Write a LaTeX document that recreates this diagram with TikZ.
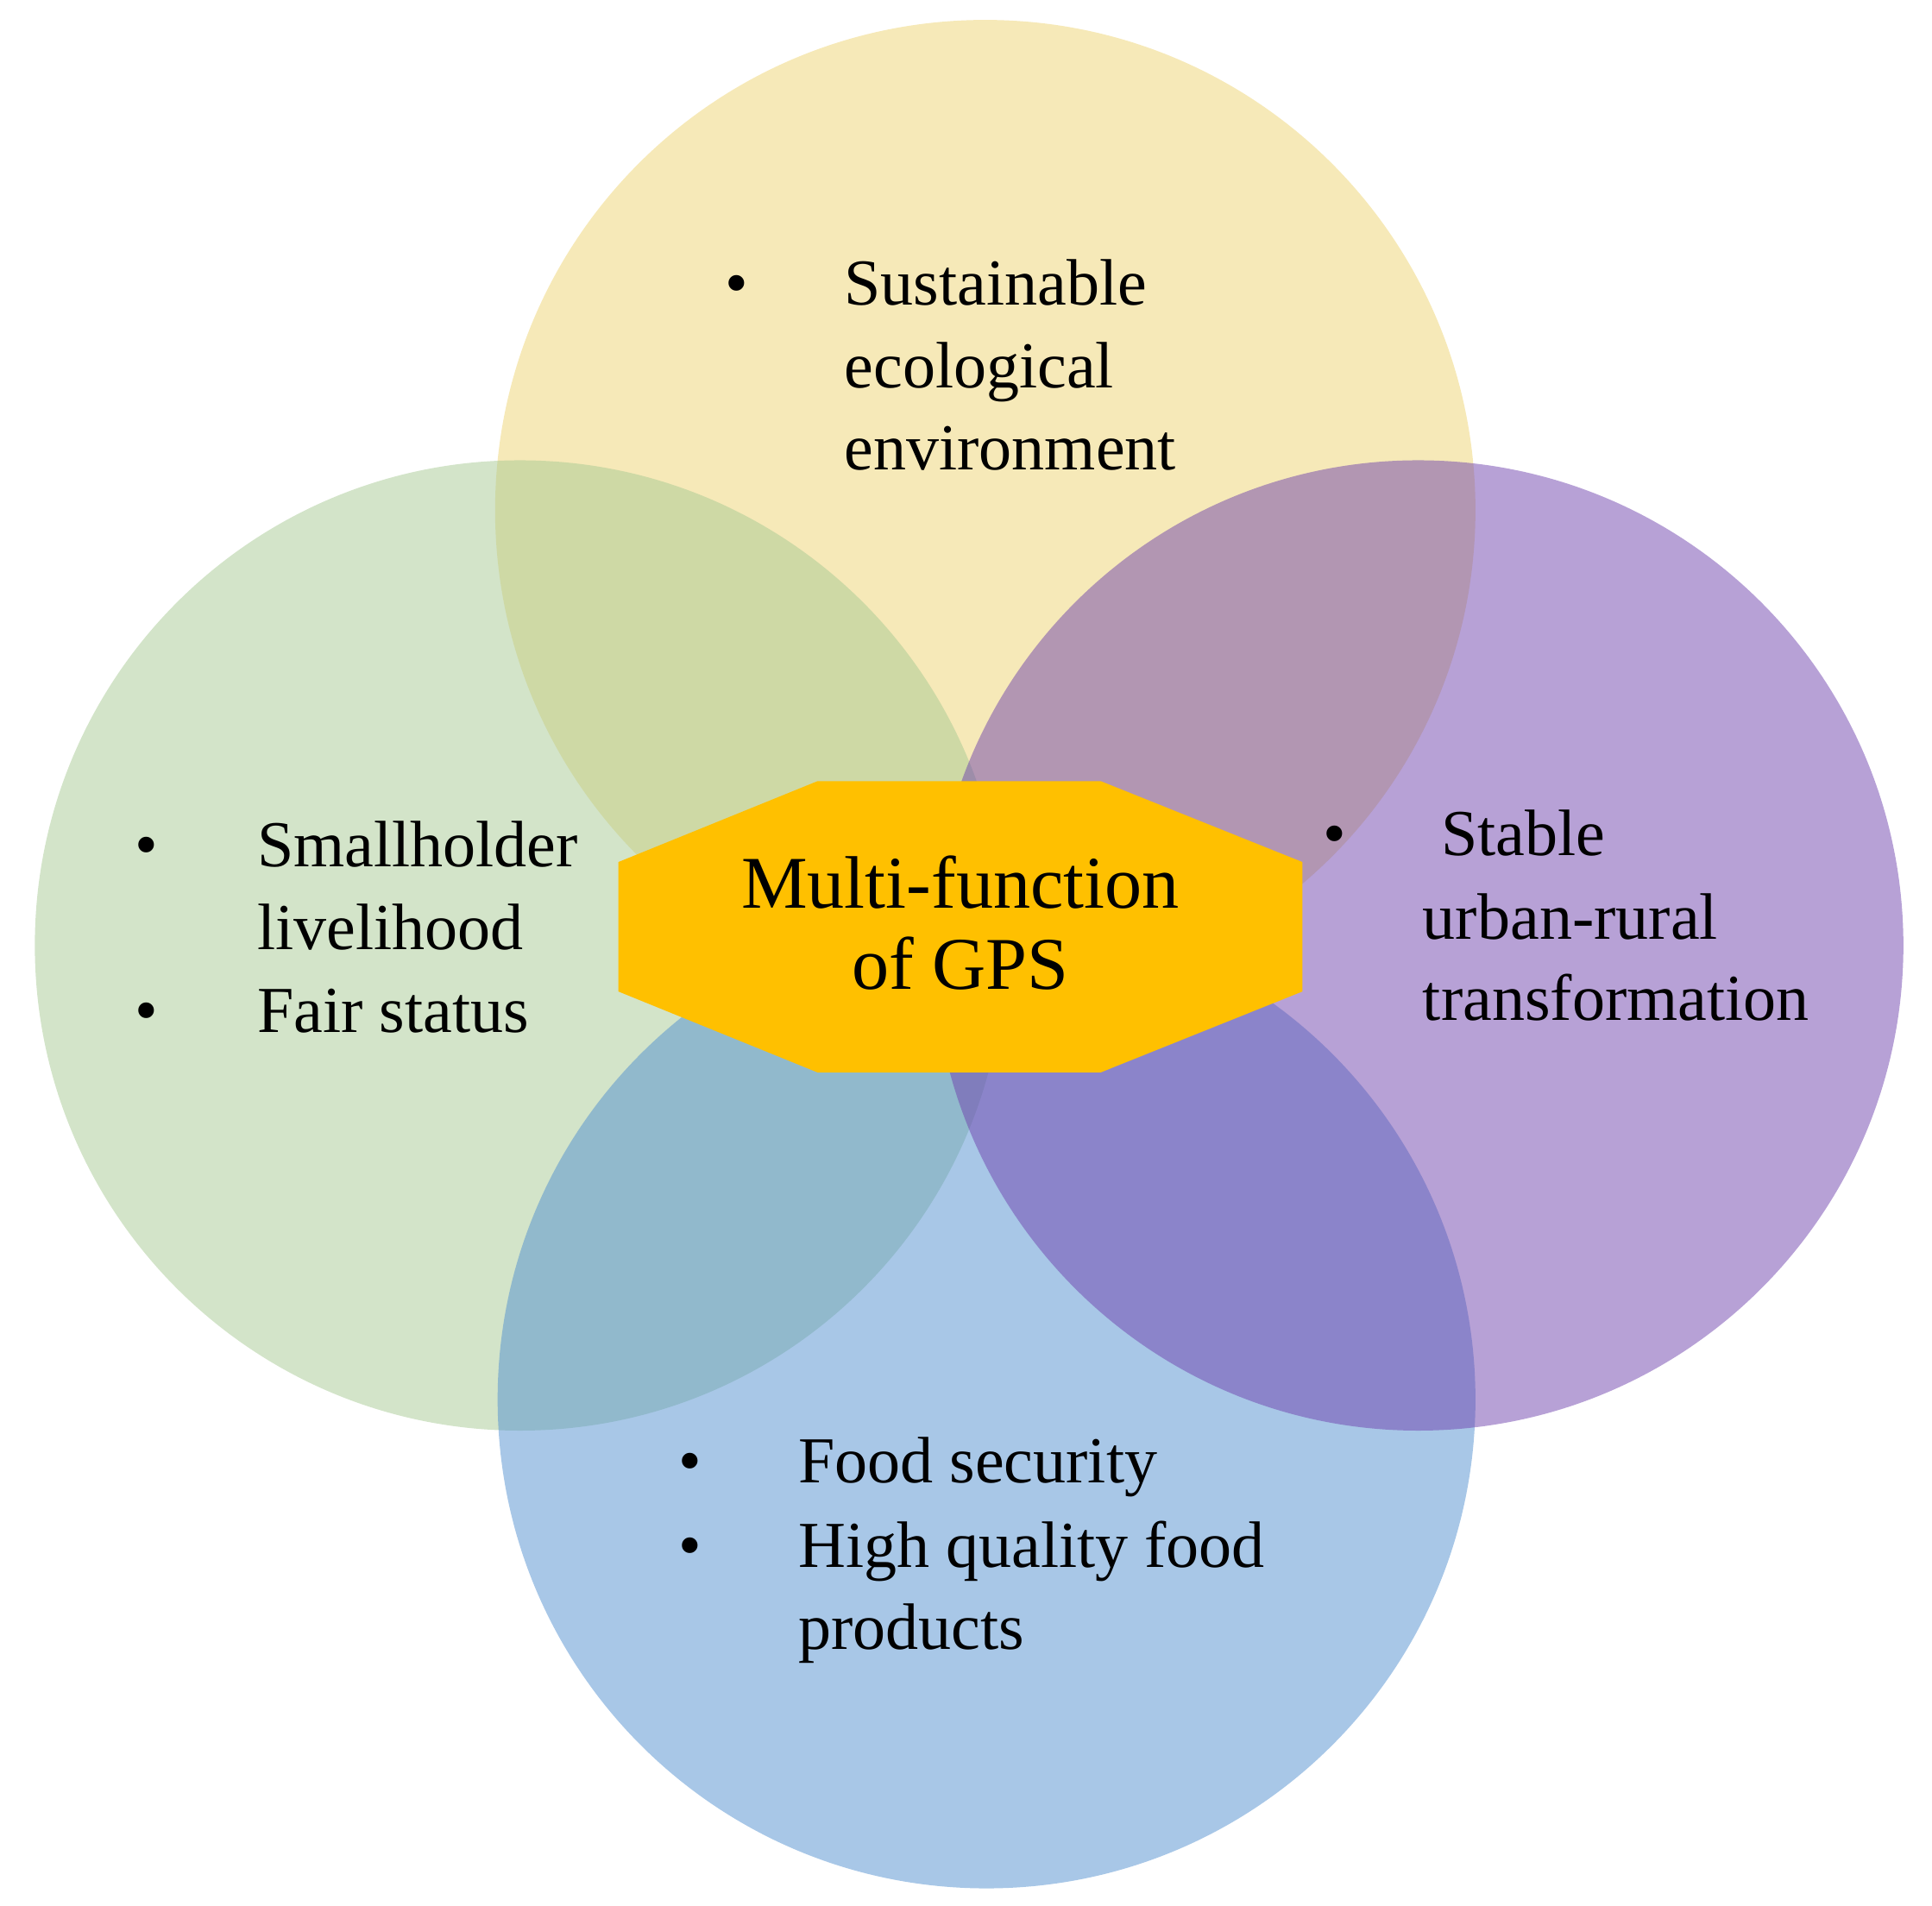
\documentclass[tikz,border=0pt]{standalone}
\usepackage{fontspec}
\setmainfont{Liberation Serif}
\usetikzlibrary{shapes.geometric}
\begin{document}
\begin{tikzpicture}[x=0.01cm,y=-0.01cm,
  circ/.style={fill opacity=0.5},
  txt/.style={anchor=base west,inner sep=0,font=\fontsize{15pt}{19pt}\selectfont},
  bul/.style={anchor=base,inner sep=0,font=\fontsize{15pt}{19pt}\selectfont}]
\useasboundingbox (0,0) rectangle (1553,1532);
\definecolor{cy}{HTML}{EED372}
\definecolor{cg}{HTML}{A7C993}
\definecolor{cp}{HTML}{6F43AD}
\definecolor{cb}{HTML}{518FCF}
\definecolor{oct}{HTML}{FFC000}
\fill[circ,cy] (792,410) circle (394);
\fill[circ,cg] (418,760) circle (390);
\fill[circ,cb] (793,1125) circle (393);
\fill[circ,cp] (1140,760) circle (390);
\fill[oct] (657,628) -- (885,628) -- (1047,693) -- (1047,797) -- (885,862) -- (657,862) -- (497,797) -- (497,693) -- cycle;
\node[anchor=base,inner sep=0,font=\fontsize{17pt}{19pt}\selectfont] (c1) at (772,730) {Multi-function};
\node[anchor=base,inner sep=0,font=\fontsize{17pt}{19pt}\selectfont] (c2) at (772,795) {of GPS};
% yellow
\node[bul] (yb) at (592,245) {•};
\node[txt] (y1) at (678,245) {Sustainable};
\node[txt] (y2) at (678,312) {ecological};
\node[txt] (y3) at (678,378) {environment};
% green
\node[bul] (gb1) at (118,697) {•};
\node[bul] (gb2) at (118,830) {•};
\node[txt] (g1) at (206,697) {Smallholder};
\node[txt] (g2) at (206,763) {livelihood};
\node[txt] (g3) at (206,830) {Fair status};
% purple
\node[bul] (pb) at (1073,688) {•};
\node[txt] (p1) at (1158,688) {Stable};
\node[txt] (p2) at (1143,755) {urban-rural};
\node[txt] (p3) at (1143,820) {transformation};
% blue
\node[bul] (bb1) at (555,1192) {•};
\node[bul] (bb2) at (555,1260) {•};
\node[txt] (b1) at (641,1192) {Food security};
\node[txt] (b2) at (641,1260) {High quality food};
\node[txt] (b3) at (641,1326) {products};
\end{tikzpicture}
\end{document}
